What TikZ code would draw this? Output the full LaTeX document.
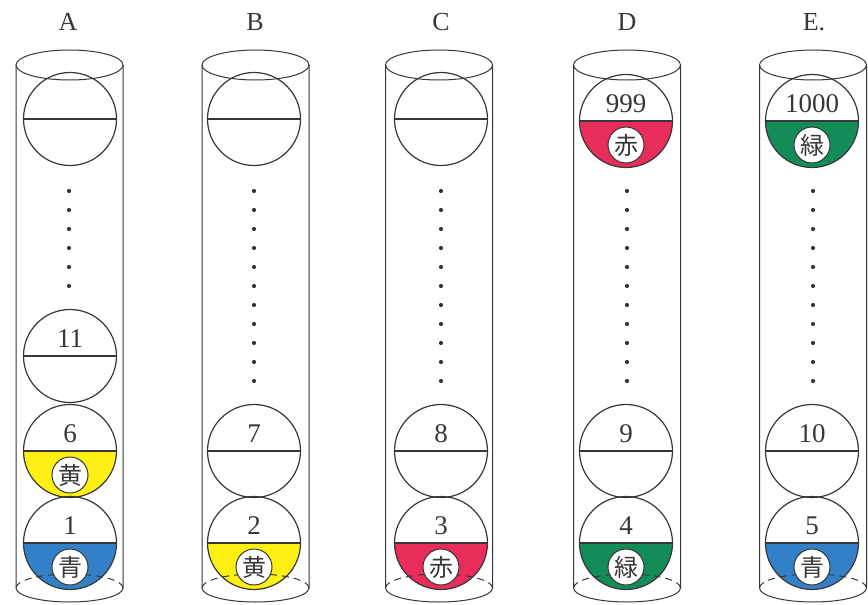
\documentclass[tikz,border=0pt]{standalone}
\usepackage{fontspec}
\setmainfont{Liberation Serif}
\newfontfamily\cjk{Noto Sans CJK JP}

\definecolor{ink}{RGB}{55,55,55}
\definecolor{ballyellow}{RGB}{255,240,20}
\definecolor{ballblue}{RGB}{52,128,200}
\definecolor{ballred}{RGB}{232,44,92}
\definecolor{ballgreen}{RGB}{20,140,90}

\tikzset{
  tubeline/.style={draw=ink, line width=1pt},
  backline/.style={draw=ink, line width=1pt, dash pattern=on 7pt off 5pt},
  ballline/.style={draw=ink, line width=1.2pt},
  ball/.style={circle, draw=ink, line width=1.2pt, minimum size=93pt, inner sep=0pt},
  numtext/.style={text=ink, font=\fontsize{27}{27}\selectfont, inner sep=0pt},
  headtext/.style={text=ink, font=\fontsize{26}{26}\selectfont, inner sep=0pt},
  badge/.style={circle, draw=ink, fill=white, line width=1pt, minimum size=36pt,
    inner sep=0pt, text=ink, font=\cjk\fontsize{24}{24}\selectfont},
}

% tube: open cylinder, name / centre x
\newcommand\tube[2]{%
  \coordinate (#1top) at (#2,-65);
  \draw[tubeline] (#1top) ellipse [x radius=53.5, y radius=15];
  \draw[tubeline] (#2-53.5,-65) -- (#2-53.5,-588)
     arc[start angle=180, end angle=360, x radius=53.5, y radius=14]
     -- (#2+53.5,-65);
}
% hidden back edge of the tube floor
\newcommand\tubeback[2]{%
  \coordinate (#1floor) at (#2,-588);
  \draw[backline] (#2+53.5,-588)
     arc[start angle=0, end angle=180, x radius=53.5, y radius=14];
}
% plain ball: name / x / y
\newcommand\plainball[3]{%
  \node[ball] (#1) at (#2,#3) {};
  \draw[ballline] (#1.west) -- (#1.east);
}
% ball with coloured lower half: name / x / y / colour
\newcommand\colourball[4]{%
  \fill[#4] (#2-46.5,#3) arc[start angle=180, end angle=360, radius=46.5] -- cycle;
  \plainball{#1}{#2}{#3}
}
% number on the upper half
\newcommand\ballnum[2]{%
  \node[numtext] (#1num) at ([yshift=17pt]#1.center) {#2};
}
% colour name badge on the lower half
\newcommand\ballbadge[2]{%
  \node[badge] (#1badge) at ([yshift=-24pt]#1.center) {#2};
}
% column of dots: name / x / count
\newcommand\dotrow[3]{%
  \foreach \k in {1,...,#3} {
    \fill[ink] (#2,{-191-19*(\k-1)}) circle (2.1pt);
  }
}

\begin{document}
\begin{tikzpicture}[x=1pt, y=1pt]
\useasboundingbox (0,0) rectangle (868,-605);

% column headings
\node[headtext] (hA) at (68,-22) {A};
\node[headtext] (hB) at (255,-22) {B};
\node[headtext] (hC) at (441,-22) {C};
\node[headtext] (hD) at (627,-22) {D};
\node[headtext] (hE) at (814,-22) {E.};

% ---------- A ----------
\tube{tA}{69.5}
\plainball{a0}{70}{-119}
\dotrow{dA}{69}{6}
\plainball{a11}{70}{-356}
\ballnum{a11}{11}
\colourball{a6}{70}{-451}{ballyellow}
\ballnum{a6}{6}
\ballbadge{a6}{黄}
\colourball{a1}{70}{-543}{ballblue}
\ballnum{a1}{1}
\tubeback{tA}{69.5}
\ballbadge{a1}{青}

% ---------- B ----------
\tube{tB}{255.5}
\plainball{b0}{254}{-119}
\dotrow{dB}{254}{11}
\plainball{b7}{254}{-451}
\ballnum{b7}{7}
\colourball{b2}{254}{-543}{ballyellow}
\ballnum{b2}{2}
\tubeback{tB}{255.5}
\ballbadge{b2}{黄}

% ---------- C ----------
\tube{tC}{439}
\plainball{c0}{441}{-119}
\dotrow{dC}{441}{11}
\plainball{c8}{441}{-451}
\ballnum{c8}{8}
\colourball{c3}{441}{-543}{ballred}
\ballnum{c3}{3}
\tubeback{tC}{439}
\ballbadge{c3}{赤}

% ---------- D ----------
\tube{tD}{627}
\colourball{d999}{626}{-121}{ballred}
\ballnum{d999}{999}
\ballbadge{d999}{赤}
\dotrow{dD}{627}{11}
\plainball{d9}{626}{-451}
\ballnum{d9}{9}
\colourball{d4}{626}{-543}{ballgreen}
\ballnum{d4}{4}
\tubeback{tD}{627}
\ballbadge{d4}{緑}

% ---------- E ----------
\tube{tE}{813}
\colourball{e1000}{812}{-121}{ballgreen}
\ballnum{e1000}{1000}
\ballbadge{e1000}{緑}
\dotrow{dE}{813}{11}
\plainball{e10}{812}{-451}
\ballnum{e10}{10}
\colourball{e5}{812}{-543}{ballblue}
\ballnum{e5}{5}
\tubeback{tE}{813}
\ballbadge{e5}{青}

\end{tikzpicture}
\end{document}
